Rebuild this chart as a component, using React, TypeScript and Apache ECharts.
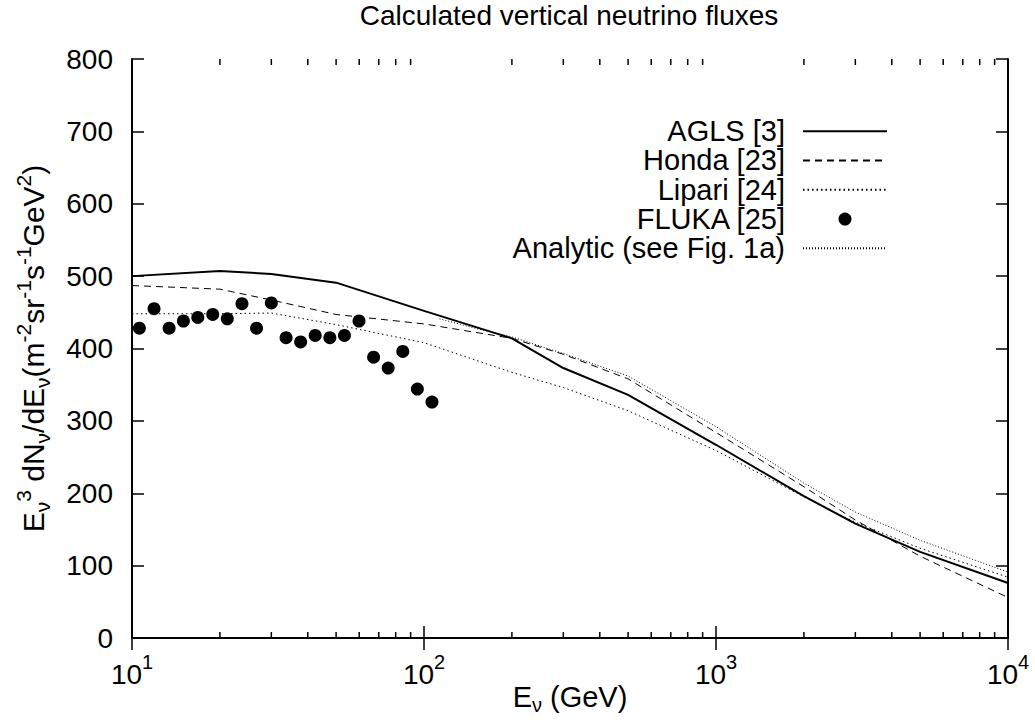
import React, { useEffect, useRef } from 'react';
import * as echarts from 'echarts';

const FONT = '"Liberation Sans", Arial, Helvetica, sans-serif';

const titleText = 'Calculated vertical neutrino fluxes';

// Energies (GeV) for the model curves
const energyGrid = [10, 20, 30, 50, 100, 200, 300, 500, 1000, 2000, 3000, 5000, 10000];
const aglsFlux = [500, 507, 503, 491, 452, 414, 373, 336, 267, 196, 158, 119, 76];
const hondaFlux = [487, 482, 467, 447, 434, 414, 392, 358, 284, 209, 163, 113, 56];
const lipariFlux = [448, 448, 449, 433, 408, 367, 346, 314, 259, 195, 160, 124, 84];

const analyticEnergy = [113, 150, 200, 300, 500, 1000, 2000, 3000, 5000, 10000];
const analyticFlux = [441, 428, 416, 393, 362, 292, 214, 174, 135, 91];

const flukaEnergy = [10.6, 11.9, 13.4, 15.0, 16.8, 18.9, 21.2, 23.8, 26.7, 30.0, 33.7, 37.8, 42.4, 47.6, 53.4, 59.9, 67.2, 75.4, 84.6, 94.9, 106.5];
const flukaFlux = [428, 455, 428, 438, 443, 447, 441, 462, 428, 463, 415, 409, 418, 415, 418, 438, 388, 373, 396, 344, 326];

const minorTickEnergies = [
  20, 30, 40, 50, 60, 70, 80, 90,
  200, 300, 400, 500, 600, 700, 800, 900,
  2000, 3000, 4000, 5000, 6000, 7000, 8000, 9000,
];

const seriesNames = ['AGLS [3]', 'Honda [23]', 'Lipari [24]', 'FLUKA [25]', 'Analytic (see Fig. 1a)'];

const xMin = 10;
const xMax = 10000;
const yMin = 0;
const yMax = 800;
const yInterval = 100;

const zip = (xs: number[], ys: number[]) => xs.map((x, i) => [x, ys[i]]);

export default function App() {
  const ref = useRef<HTMLDivElement>(null);

  useEffect(() => {
    if (!ref.current) return;
    const chart = echarts.init(ref.current, null, { renderer: 'svg' });

    const tickFont = 28;
    const richY = {
      n: { fontSize: 30, fontFamily: FONT, color: '#000', lineHeight: 40, verticalAlign: 'middle' },
      sup: { fontSize: 21, fontFamily: FONT, color: '#000', lineHeight: 20, verticalAlign: 'top' },
      sub: { fontSize: 21, fontFamily: FONT, color: '#000', lineHeight: 20, verticalAlign: 'bottom' },
    };
    const richX = {
      n: { fontSize: 29, fontFamily: FONT, color: '#000', lineHeight: 36, verticalAlign: 'middle' },
      sub: { fontSize: 20, fontFamily: FONT, color: '#000', lineHeight: 18, verticalAlign: 'bottom' },
    };

    const axisLineStyle = { color: '#000', width: 2 };
    const tickStyle = { color: '#000', width: 1.5 };
    const hiddenSymbol = { opacity: 0 };

    const option: any = {
      animation: false,
      backgroundColor: '#fff',
      title: {
        text: titleText,
        left: 569,
        top: 0,
        padding: 0,
        textAlign: 'center',
        textStyle: { fontFamily: FONT, fontSize: 28, lineHeight: 30, fontWeight: 'normal', color: '#000' },
      },
      grid: { left: 132, right: 27, top: 59, bottom: 89, containLabel: false, outerBoundsMode: 'none' },
      legend: {
        orient: 'vertical',
        right: 147,
        top: 116.5,
        align: 'right',
        itemWidth: 84,
        itemHeight: 13,
        itemGap: 0,
        padding: 0,
        selectedMode: false,
        data: [
          { name: seriesNames[0], itemStyle: hiddenSymbol },
          { name: seriesNames[1], itemStyle: hiddenSymbol },
          { name: seriesNames[2], itemStyle: hiddenSymbol },
          { name: seriesNames[3] },
          { name: seriesNames[4], itemStyle: hiddenSymbol },
        ],
        textStyle: { fontFamily: FONT, fontSize: 29, color: '#000', lineHeight: 29.3, padding: [0, 13, 0, 0] },
      },
      xAxis: [
        {
          type: 'log',
          logBase: 10,
          min: xMin,
          max: xMax,
          position: 'bottom',
          name: '{n|E}{sub|ν}{n| (GeV)}',
          nameLocation: 'middle',
          nameGap: 41,
          nameMoveOverlap: false,
          nameTextStyle: { rich: richX },
          axisLine: { show: true, lineStyle: axisLineStyle },
          axisTick: { show: true, inside: true, length: 12, lineStyle: tickStyle },
          splitLine: { show: false },
          axisLabel: {
            margin: 14,
            formatter: (v: number) => `{b|10}{s|${Math.round(Math.log10(v))}}`,
            rich: {
              b: { fontSize: tickFont, fontFamily: FONT, color: '#000', lineHeight: 36, verticalAlign: 'bottom' },
              s: { fontSize: 20, fontFamily: FONT, color: '#000', lineHeight: 20, verticalAlign: 'top' },
            },
          },
        },
        {
          type: 'log',
          logBase: 10,
          min: xMin,
          max: xMax,
          position: 'top',
          axisLine: { show: true, lineStyle: axisLineStyle },
          axisTick: { show: true, inside: true, length: 12, lineStyle: tickStyle },
          axisLabel: { show: false },
          splitLine: { show: false },
        },
      ],
      yAxis: [
        {
          type: 'value',
          min: yMin,
          max: yMax,
          interval: yInterval,
          position: 'left',
          name: '{n|E}{sub|ν}{sup|3}{n| dN}{sub|ν}{n|/dE}{sub|ν}{n|(m}{sup|-2}{n|sr}{sup|-1}{n|s}{sup|-1}{n|GeV}{sup|2}{n|)}',
          nameLocation: 'middle',
          nameGap: 79,
          nameMoveOverlap: false,
          nameTextStyle: { rich: richY },
          axisLine: { show: true, lineStyle: axisLineStyle },
          axisTick: { show: true, inside: true, length: 12, lineStyle: tickStyle },
          splitLine: { show: false },
          axisLabel: { margin: 19, fontSize: tickFont, fontFamily: FONT, color: '#000' },
        },
        {
          type: 'value',
          min: yMin,
          max: yMax,
          interval: yInterval,
          position: 'right',
          axisLine: { show: true, lineStyle: axisLineStyle },
          axisTick: { show: true, inside: true, length: 12, lineStyle: tickStyle },
          axisLabel: { show: false },
          splitLine: { show: false },
        },
      ],
      series: [
        {
          name: seriesNames[0],
          type: 'line',
          data: zip(energyGrid, aglsFlux),
          symbol: 'none',
          lineStyle: { color: '#000', width: 2, type: 'solid' },
          itemStyle: { color: '#000' },
          z: 4,
        },
        {
          name: seriesNames[1],
          type: 'line',
          data: zip(energyGrid, hondaFlux),
          symbol: 'none',
          lineStyle: { color: '#000', width: 1, type: [7, 5] },
          itemStyle: { color: '#000' },
          z: 3,
        },
        {
          name: seriesNames[2],
          type: 'line',
          data: zip(energyGrid, lipariFlux),
          symbol: 'none',
          lineStyle: { color: '#000', width: 1, type: [1.5, 3] },
          itemStyle: { color: '#000' },
          z: 3,
        },
        {
          name: seriesNames[3],
          type: 'scatter',
          data: zip(flukaEnergy, flukaFlux),
          symbol: 'circle',
          symbolSize: 13,
          itemStyle: { color: '#000', opacity: 1 },
          z: 5,
        },
        {
          name: seriesNames[4],
          type: 'line',
          data: zip(analyticEnergy, analyticFlux),
          symbol: 'none',
          lineStyle: { color: '#000', width: 1, type: [1, 2] },
          itemStyle: { color: '#000' },
          z: 3,
        },
        {
          name: 'minor ticks',
          type: 'custom',
          xAxisIndex: 0,
          yAxisIndex: 0,
          silent: true,
          clip: false,
          z: 6,
          data: minorTickEnergies.map((e) => [e, yMin]),
          renderItem: (_params: any, api: any) => {
            const x = api.value(0);
            const b = api.coord([x, yMin]);
            const t = api.coord([x, yMax]);
            const st = { stroke: '#000', lineWidth: 1.5 };
            return {
              type: 'group',
              children: [
                { type: 'line', shape: { x1: b[0], y1: b[1], x2: b[0], y2: b[1] - 6 }, style: st },
                { type: 'line', shape: { x1: t[0], y1: t[1], x2: t[0], y2: t[1] + 6 }, style: st },
              ],
            };
          },
        },
      ],
    };

    chart.setOption(option);
    return () => chart.dispose();
  }, []);

  return <div ref={ref} style={{ width: 1035, height: 727, position: 'absolute', left: 0, top: 0, background: '#fff' }} />;
}
